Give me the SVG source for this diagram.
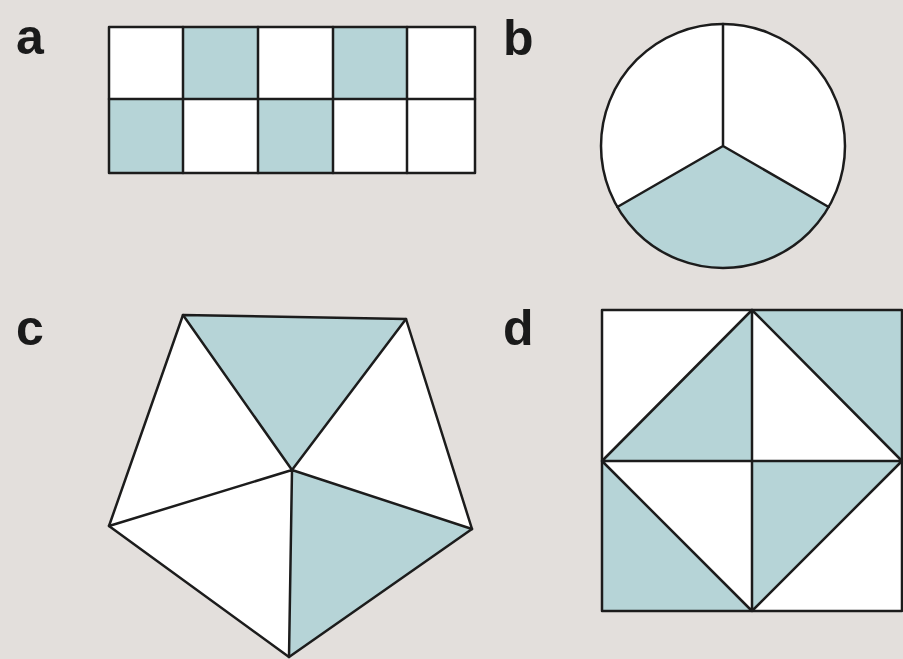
<svg xmlns="http://www.w3.org/2000/svg" width="903" height="659" viewBox="0 0 903 659">
<style>
.s{fill:#b6d4d7}
.w{fill:#ffffff}
.l{fill:none;stroke:#1c1c1c;stroke-width:2.5;stroke-linejoin:round;stroke-linecap:round}
.t{font-family:"Liberation Sans",Arial,sans-serif;font-weight:bold;font-size:50px;fill:#1a1a1a}
</style>
<rect width="903" height="659" fill="#e3dfdc"/>
<g id="label-a"><text class="t" x="16" y="54">a</text></g>
<g id="label-b"><text class="t" x="503" y="55">b</text></g>
<g id="label-c"><text class="t" x="16" y="345">c</text></g>
<g id="label-d"><text class="t" x="503" y="345">d</text></g>
<g id="grid-a">
<rect class="w" x="109" y="27" width="366" height="146"/>
<rect class="s" x="183" y="27" width="75" height="72"/>
<rect class="s" x="333" y="27" width="74" height="72"/>
<rect class="s" x="109" y="99" width="74" height="74"/>
<rect class="s" x="258" y="99" width="75" height="74"/>
<rect class="l" x="109" y="27" width="366" height="146"/>
<path class="l" d="M109 99H475M183 27V173M258 27V173M333 27V173M407 27V173"/>
</g>
<g id="circle-b">
<circle class="w" cx="723" cy="146" r="122"/>
<path class="s" d="M723 146L617.3 207A122 122 0 0 0 828.7 207Z"/>
<circle class="l" cx="723" cy="146" r="122"/>
<path class="l" d="M723 24V146M617.3 207L723 146L828.7 207"/>
</g>
<g id="pentagon-c">
<polygon class="w" points="183,315 406,319 472,529 289,657 109,526"/>
<polygon class="s" points="183,315 406,319 292,470"/>
<polygon class="s" points="292,470 472,529 289,657"/>
<polygon class="l" points="183,315 406,319 472,529 289,657 109,526"/>
<path class="l" d="M183 315L292 470L406 319M109 526L292 470L472 529M292 470L289 657"/>
</g>
<g id="square-d">
<rect class="w" x="602" y="310" width="300" height="301"/>
<polygon class="s" points="602,461 752,310 752,461"/>
<polygon class="s" points="752,310 902,310 902,461"/>
<polygon class="s" points="752,461 902,461 752,611"/>
<polygon class="s" points="602,461 752,611 602,611"/>
<rect class="l" x="602" y="310" width="300" height="301"/>
<path class="l" d="M752 310V611M602 461H902M752 310L902 461L752 611L602 461Z"/>
</g>
</svg>
